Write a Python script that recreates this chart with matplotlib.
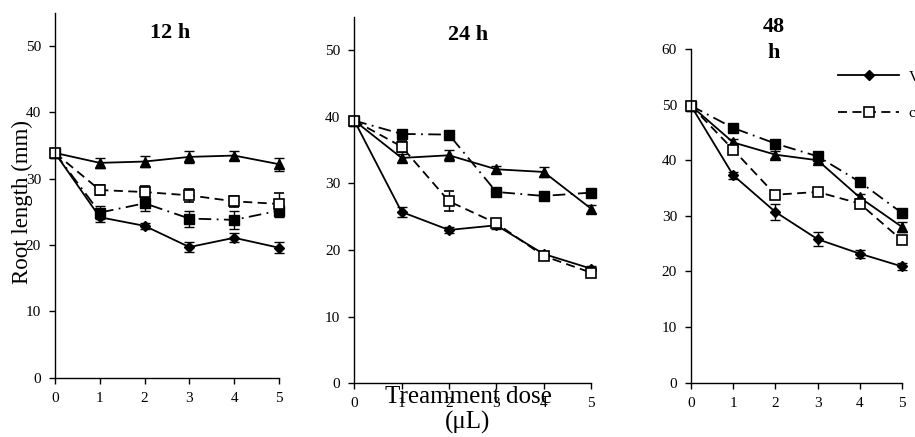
import matplotlib
matplotlib.use("Agg")
import matplotlib.pyplot as plt
from matplotlib.lines import Line2D

plt.rcParams['font.family'] = ['Liberation Serif', 'DejaVu Serif']

dose = [0, 1, 2, 3, 4, 5]
dose_ticks = [0, 1, 2, 3, 4, 5]

# 12 h
h12_diamond = [33.9, 24.2, 22.9, 19.7, 21.1, 19.6]
h12_diamond_err = [0.3, 0.7, 0.5, 0.8, 0.7, 0.8]
h12_triangle = [33.9, 32.4, 32.6, 33.3, 33.5, 32.2]
h12_triangle_err = [0.3, 0.7, 0.8, 0.9, 0.7, 1.0]
h12_open = [33.9, 28.3, 28.0, 27.5, 26.6, 26.2]
h12_open_err = [0.3, 0.8, 0.9, 1.0, 0.8, 1.6]
h12_filled = [33.9, 24.9, 26.3, 24.0, 23.8, 25.2]
h12_filled_err = [0.3, 1.0, 1.1, 1.2, 1.3, 0.9]

# 24 h
h24_diamond = [39.4, 25.7, 23.0, 23.7, 19.4, 17.2]
h24_diamond_err = [0.3, 0.8, 0.5, 0.5, 0.4, 0.4]
h24_triangle = [39.4, 33.8, 34.2, 32.1, 31.7, 26.2]
h24_triangle_err = [0.3, 0.6, 0.8, 0.5, 0.8, 0.6]
h24_open = [39.4, 35.5, 27.3, 24.0, 19.1, 16.6]
h24_open_err = [0.3, 0.8, 1.5, 0.5, 0.5, 0.5]
h24_filled = [39.4, 37.4, 37.3, 28.7, 28.1, 28.6]
h24_filled_err = [0.3, 0.5, 0.4, 0.5, 0.4, 0.4]

# 48 h
h48_diamond = [49.8, 37.3, 30.7, 25.8, 23.2, 20.9]
h48_diamond_err = [0.3, 0.6, 1.5, 1.3, 0.7, 0.6]
h48_triangle = [49.8, 43.2, 41.0, 40.0, 33.3, 28.0]
h48_triangle_err = [0.3, 0.7, 0.6, 0.5, 0.7, 0.9]
h48_open = [49.8, 41.9, 33.8, 34.3, 32.2, 25.6]
h48_open_err = [0.3, 0.8, 0.6, 0.6, 0.8, 0.7]
h48_filled = [49.8, 45.8, 43.0, 40.7, 36.1, 30.5]
h48_filled_err = [0.3, 0.6, 0.6, 0.6, 0.6, 0.6]

legend_labels = ["V", "c"]

panels = [
    dict(title="12 h", ylim=55, yticks=[0, 10, 20, 30, 40, 50],
         data=(h12_diamond, h12_diamond_err, h12_triangle, h12_triangle_err,
               h12_open, h12_open_err, h12_filled, h12_filled_err),
         rect=[55/915, 59.3/437, 224/915, 364.7/437]),
    dict(title="24 h", ylim=55, yticks=[0, 10, 20, 30, 40, 50],
         data=(h24_diamond, h24_diamond_err, h24_triangle, h24_triangle_err,
               h24_open, h24_open_err, h24_filled, h24_filled_err),
         rect=[354.3/915, 53.7/437, 236.7/915, 366.7/437]),
    dict(title="48\nh", ylim=60, yticks=[0, 10, 20, 30, 40, 50, 60],
         data=(h48_diamond, h48_diamond_err, h48_triangle, h48_triangle_err,
               h48_open, h48_open_err, h48_filled, h48_filled_err),
         rect=[691/915, 54.3/437, 211/915, 333.7/437]),
]

fig = plt.figure(figsize=(9.15, 4.37), dpi=100)
lw = 1.3
eb = dict(ecolor='black', elinewidth=1.0, capsize=3.5, capthick=1.0, clip_on=False)

axes = []
for p in panels:
    ax = fig.add_axes(p['rect'])
    d, de, t, te, o, oe, f, fe = p['data']
    ax.errorbar(dose, d, yerr=de, color='black', lw=lw, marker='D', ms=5.5,
                mfc='black', mec='black', **eb)
    ax.errorbar(dose, t, yerr=te, color='black', lw=lw, marker='^', ms=7.5,
                mfc='black', mec='black', **eb)
    ax.errorbar(dose, f, yerr=fe, color='black', lw=lw, ls=(0, (7, 3, 1, 3)),
                marker='s', ms=6.5, mfc='black', mec='black', **eb)
    ax.errorbar(dose, o, yerr=oe, color='black', lw=lw, ls=(0, (5, 3)),
                marker='s', ms=6.5, mfc='white', mec='black', mew=1.2, **eb)
    for ln in ax.lines:
        ln.set_clip_on(False)
    ax.set_xlim(0, 5)
    ax.set_ylim(0, p['ylim'])
    ax.set_xticks(dose_ticks)
    ax.set_yticks(p['yticks'])
    ax.spines['top'].set_visible(False)
    ax.spines['right'].set_visible(False)
    for s in ['left', 'bottom']:
        ax.spines[s].set_linewidth(1.0)
    ax.tick_params(direction='out', length=4, width=1.0, labelsize=11,
                   colors='black', pad=6)
    axes.append(ax)

fig.text(170/915, 1 - 33/437, "12 h", ha='center', va='center',
         fontsize=16, fontweight='bold')
fig.text(468/915, 1 - 35/437, "24 h", ha='center', va='center',
         fontsize=16, fontweight='bold')
fig.text(774/915, 1 - 40/437, "48\nh", ha='center', va='center',
         fontsize=16, fontweight='bold', linespacing=1.45)

fig.text(22/915, 1 - 202/437, "Root length (mm)", rotation=90, ha='center',
         va='center', fontsize=16.5)
fig.text(468/915, 1 - 410/437, "Treamment dose\n(\u03bcL)", ha='center',
         va='center', fontsize=18, linespacing=1.15)

handles = [
    Line2D([], [], color='black', lw=lw, marker='D', ms=5.5, mfc='black'),
    Line2D([], [], color='black', lw=lw, ls=(0, (5, 3)), marker='s', ms=6.5,
           mfc='white', mec='black', mew=1.2),
]
fig.legend(handles=handles, labels=legend_labels, loc='upper left',
           bbox_to_anchor=(832/915, 1 - 64/437), frameon=False, fontsize=11,
           handlelength=4.0, handletextpad=0.6, labelspacing=1.5,
           borderaxespad=0)

fig.savefig("out.png", dpi=100)
